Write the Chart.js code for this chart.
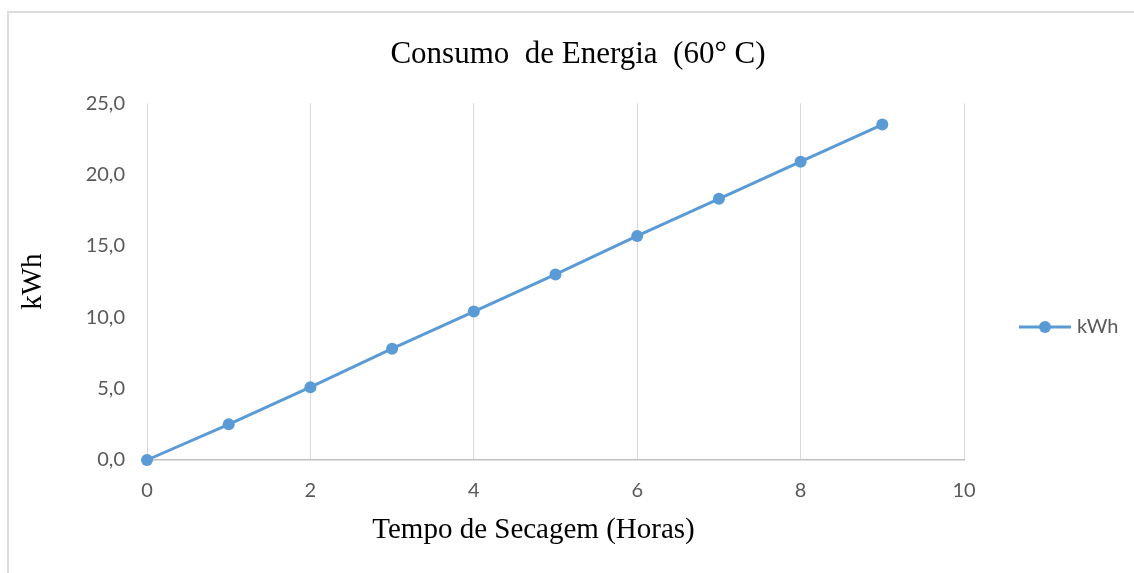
<!DOCTYPE html>
<html>
<head>
<meta charset="utf-8">
<script src="https://cdn.jsdelivr.net/npm/chart.js@4/dist/chart.umd.min.js"></script>
<style>
  html, body { margin: 0; padding: 0; background: #fff; }
  #wrap { position: relative; width: 1134px; height: 573px; overflow: hidden; }
  #frame { position: absolute; left: 7px; top: 11px; width: 1200px; height: 700px;
           border-top: 2px solid #dcdcdc; border-left: 2px solid #dcdcdc; box-sizing: border-box; pointer-events: none; }
  canvas { position: absolute; left: 0; top: 0; }
</style>
</head>
<body>
<div id="wrap">
  <canvas id="c" width="1134" height="573"></canvas>
  <div id="frame"></div>
</div>
<script>
// Drying time (hours) and cumulative energy use (kWh)
const hours = [0, 1, 2, 3, 4, 5, 6, 7, 8, 9];
const kwh = [0.0, 2.5, 5.1, 7.8, 10.4, 13.0, 15.7, 18.3, 20.9, 23.5];
const seriesLabel = 'kWh';
const chartTitle = 'Consumo  de Energia  (60° C)';
const xTitle = 'Tempo de Secagem (Horas)';
const yTitle = 'kWh';
const xTicks = [0, 2, 4, 6, 8, 10];
const yTicks = [0, 5, 10, 15, 20, 25];

const blue = '#5b9bd5';
const tickColor = '#595959';
const serif = '"Liberation Serif", "Times New Roman", serif';
const sans = 'Lato, "Liberation Sans", sans-serif';

// Legend on the right: line with a centred marker, then the label
const sideLegend = {
  id: 'sideLegend',
  afterDraw(chart) {
    const ctx = chart.ctx;
    const ds = chart.data.datasets[0];
    const y = 327, x0 = 1019, x1 = 1071;
    ctx.save();
    ctx.strokeStyle = ds.borderColor;
    ctx.lineWidth = 3;
    ctx.beginPath(); ctx.moveTo(x0, y); ctx.lineTo(x1, y); ctx.stroke();
    ctx.fillStyle = ds.pointBackgroundColor;
    ctx.beginPath(); ctx.arc((x0 + x1) / 2, y, 6, 0, Math.PI * 2); ctx.fill();
    ctx.fillStyle = tickColor;
    ctx.font = '20px ' + sans;
    ctx.textBaseline = 'middle';
    ctx.textAlign = 'left';
    ctx.fillText(ds.label, x1 + 6, y);
    ctx.restore();
  }
};

// Horizontal axis title, set slightly left of the plot centre
const xAxisTitle = {
  id: 'xAxisTitle',
  afterDraw(chart) {
    const ctx = chart.ctx;
    const a = chart.chartArea;
    ctx.save();
    ctx.fillStyle = '#000';
    ctx.font = '29px ' + serif;
    ctx.textAlign = 'center';
    ctx.textBaseline = 'middle';
    ctx.fillText(xTitle, (a.left + a.right) / 2 - 22, a.bottom + 70);
    ctx.restore();
  }
};

new Chart(document.getElementById('c'), {
  type: 'line',
  data: {
    datasets: [{
      label: seriesLabel,
      data: hours.map((h, i) => ({ x: h, y: kwh[i] })),
      borderColor: blue,
      backgroundColor: blue,
      pointBackgroundColor: blue,
      pointBorderColor: blue,
      borderWidth: 3,
      pointRadius: 6,
      pointBorderWidth: 0,
      tension: 0,
      clip: false
    }]
  },
  options: {
    responsive: false,
    animation: false,
    devicePixelRatio: 1,
    layout: { padding: { left: 22, right: 0, top: 0, bottom: 0 } },
    plugins: {
      legend: { display: false },
      tooltip: { enabled: false },
      title: {
        display: true,
        text: chartTitle,
        color: '#000',
        font: { family: serif, size: 31, weight: 'normal', lineHeight: 1.2 },
        padding: { top: 36, bottom: 30 }
      }
    },
    scales: {
      x: {
        type: 'linear',
        min: 0, max: 10,
        afterBuildTicks(scale) { scale.ticks = xTicks.map(v => ({ value: v })); },
        afterFit(scale) { scale.height = 113; },
        grid: { color: '#d9d9d9', lineWidth: 1, drawTicks: false },
        border: { color: '#bfbfbf', width: 1.5 },
        ticks: { color: tickColor, font: { family: sans, size: 20 }, padding: 19 },
        title: { display: false, text: xTitle }
      },
      y: {
        min: 0, max: 25,
        afterBuildTicks(scale) { scale.ticks = yTicks.map(v => ({ value: v })); },
        afterFit(scale) { scale.width = 125; },
        grid: { display: false, drawTicks: false },
        border: { display: false },
        ticks: {
          color: tickColor, font: { family: sans, size: 20 }, padding: 22,
          callback: v => v.toFixed(1).replace('.', ',')
        },
        title: {
          display: true, text: yTitle, color: '#000',
          font: { family: serif, size: 29, lineHeight: 0.8 },
          padding: { top: 0, bottom: 0 }
        }
      },
      // empty right-hand band that keeps room for the legend
      legendBand: {
        type: 'linear',
        position: 'right',
        afterFit(scale) { scale.width = 170; },
        grid: { display: false, drawTicks: false },
        border: { display: false },
        ticks: { display: false }
      }
    }
  },
  plugins: [sideLegend, xAxisTitle]
});
</script>
</body>
</html>
